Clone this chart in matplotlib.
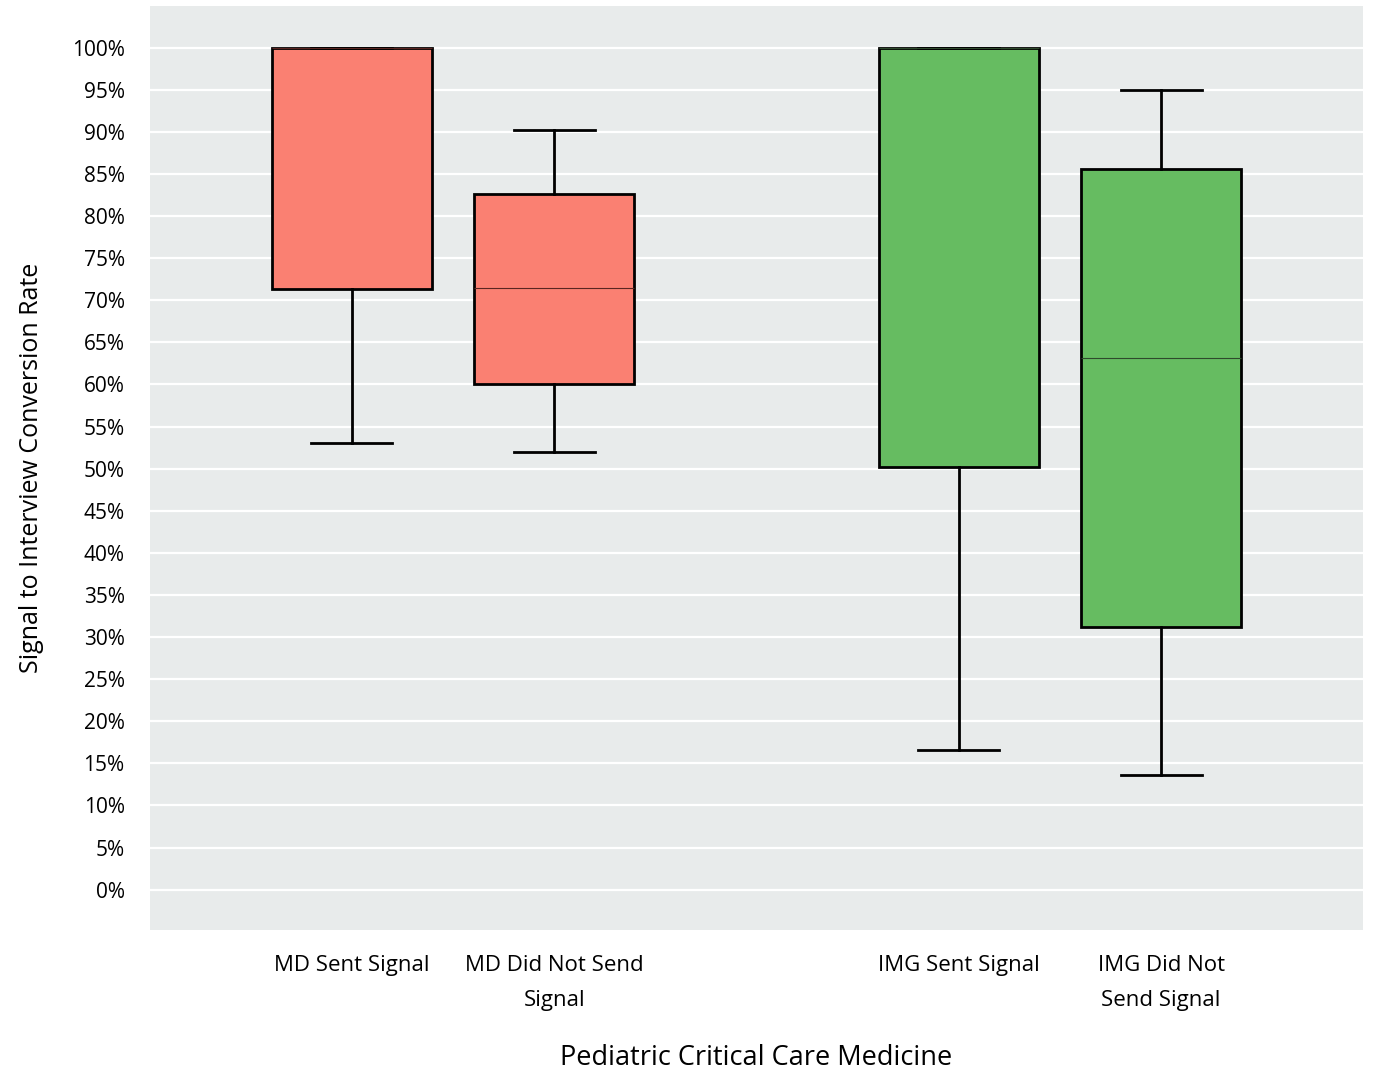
import matplotlib.pyplot as plt
from matplotlib.ticker import FuncFormatter

plt.rcParams['font.family'] = ['Open Sans', 'DejaVu Sans']

# box statistics (percent)
labels = ["MD Sent Signal", "MD Did Not Send\nSignal", "IMG Sent Signal", "IMG Did Not\nSend Signal"]
whislo = [53.1, 52.0, 16.6, 13.6]
q1 = [71.4, 60.1, 50.2, 31.2]
med = [100.0, 71.5, 100.0, 63.1]
q3 = [100.0, 82.6, 100.0, 85.6]
whishi = [100.0, 90.2, 100.0, 95.0]
colors = ["#FA8072", "#FA8072", "#66BC61", "#66BC61"]
positions = [1, 2, 4, 5]

stats = []
for i in range(len(labels)):
    stats.append({"label": labels[i], "whislo": whislo[i], "q1": q1[i], "med": med[i],
                  "q3": q3[i], "whishi": whishi[i], "fliers": []})

fig, ax = plt.subplots(figsize=(13.73, 10.74), dpi=100)
fig.subplots_adjust(left=0.109, right=0.993, top=0.994, bottom=0.134)
ax.set_facecolor("#E8EBEB")

bp = ax.bxp(stats, positions=positions, widths=0.79, patch_artist=True, showfliers=False,
            boxprops=dict(linewidth=2, edgecolor="black"),
            whiskerprops=dict(linewidth=2, color="black"),
            capprops=dict(linewidth=2, color="black"),
            medianprops=dict(linewidth=0.8),
            capwidths=0.4, zorder=3)
for patch, c in zip(bp["boxes"], colors):
    patch.set_facecolor(c)
for m, c in zip(bp["medians"], ["#5a2520", "#5a2520", "#2f4a2c", "#2f4a2c"]):
    m.set_color(c)

ax.set_xlim(0, 6)
ax.set_ylim(-4.8, 104.9)
ax.set_yticks(range(0, 101, 5))
ax.yaxis.set_major_formatter(FuncFormatter(lambda v, p: f"{v:.0f}%"))
ax.grid(axis="y", color="white", linewidth=1.6, zorder=0)
ax.set_axisbelow(True)
for s in ax.spines.values():
    s.set_visible(False)
ax.tick_params(length=0, labelsize=15, pad=18)
ax.tick_params(axis="x", pad=18)
ax.set_xticks(positions)
ax.set_xticklabels(labels, fontsize=16, linespacing=1.85)
ax.set_xlabel("Pediatric Critical Care Medicine", fontsize=19.5, labelpad=24)
ax.set_ylabel("Signal to Interview Conversion Rate", fontsize=18, labelpad=20)

fig.savefig("out.png")
